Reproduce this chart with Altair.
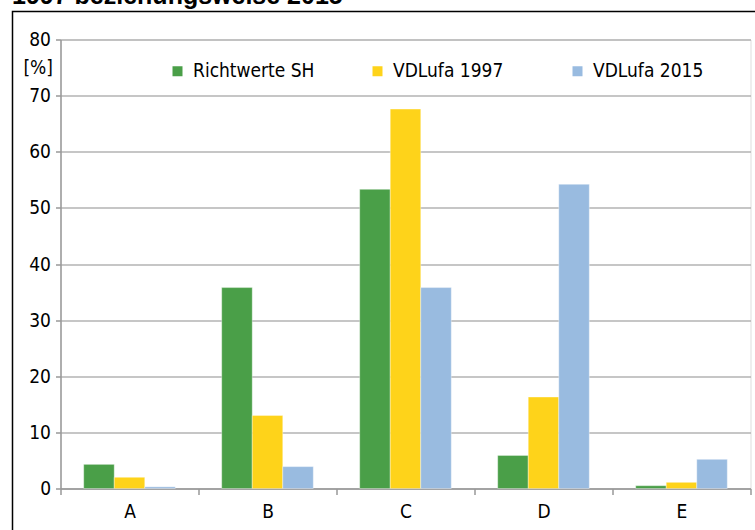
import altair as alt
import pandas as pd

categories = ["A", "B", "C", "D", "E"]
series = ["Richtwerte SH", "VDLufa 1997", "VDLufa 2015"]
richtwerte_sh = [4.3, 35.8, 53.3, 5.9, 0.5]
vdlufa_1997 = [2.0, 13.0, 67.6, 16.3, 1.1]
vdlufa_2015 = [0.3, 3.9, 35.8, 54.2, 5.2]
colors = ["#4a9f48", "#fed31a", "#99bbe0"]
title_text = "1997 beziehungsweise 2015"

rows = []
for s, vals in zip(series, [richtwerte_sh, vdlufa_1997, vdlufa_2015]):
    for c, v in zip(categories, vals):
        rows.append({"Kategorie": c, "Serie": s, "Wert": v})
df = pd.DataFrame(rows)

FONT = "DejaVu Sans Condensed, sans-serif"

bars = alt.Chart(df).mark_bar(stroke="white", strokeWidth=0.6, strokeOpacity=0.6).encode(
    x=alt.X("Kategorie:N", sort=categories,
            scale=alt.Scale(paddingInner=0, paddingOuter=0),
            axis=alt.Axis(title=None, labelAngle=0, tickBand="extent", tickSize=6,
                          tickColor="#999999", tickWidth=1.5, domainColor="#999999",
                          domainWidth=1.5, labelFontSize=19, labelFont=FONT,
                          labelColor="black", labelPadding=8, grid=False)),
    xOffset=alt.XOffset("Serie:N", sort=series,
                        scale=alt.Scale(paddingInner=0, paddingOuter=0.76)),
    y=alt.Y("Wert:Q", scale=alt.Scale(domain=[0, 80], nice=False),
            axis=alt.Axis(values=list(range(0, 81, 10)), title="[%]", titleAngle=0,
                          titleAlign="right", titleBaseline="middle", titleX=-8,
                          titleY=28, titleFontSize=19, titleFont=FONT,
                          titleFontWeight="normal", titleColor="black",
                          labelFontSize=19, labelFont=FONT, labelColor="black",
                          labelPadding=5, tickSize=5, tickColor="#999999",
                          tickWidth=1.5, domainColor="#999999", domainWidth=1.5,
                          gridColor="#b3b3b3", gridWidth=1.5)),
    color=alt.Color("Serie:N", sort=series,
                    scale=alt.Scale(domain=series, range=colors),
                    legend=alt.Legend(title=None, orient="none", legendX=107.5, legendY=22,
                                      direction="horizontal", columns=3, gridAlign="all",
                                      columnPadding=53, symbolType="square",
                                      symbolSize=100, symbolStrokeWidth=0,
                                      labelFontSize=19, labelFont=FONT,
                                      labelColor="black", labelOffset=6)),
)

title_df = pd.DataFrame({"t": [title_text]})
title_mark = alt.Chart(title_df).mark_text(
    align="left", baseline="alphabetic", fontSize=25, fontWeight="bold",
    font="Liberation Sans, Arial, sans-serif", color="black"
).encode(x=alt.value(-48.5), y=alt.value(-35.5), text="t:N")

frame = alt.Chart(title_df).mark_rect(fill=None, stroke="black", strokeWidth=1.5).encode(
    x=alt.value(-48), x2=alt.value(900), y=alt.value(-28), y2=alt.value(700)
)

chart = alt.layer(frame, bars, title_mark).properties(
    width=690, height=449,
    padding={"left": 60.5, "top": 39.5, "right": 4.5, "bottom": 41.5},
    autosize=alt.AutoSizeParams(type="none"),
).configure_view(stroke="#888888", strokeWidth=1.5).configure(background="white")

chart.save("out.html", embed_options={"renderer": "svg", "actions": False})
